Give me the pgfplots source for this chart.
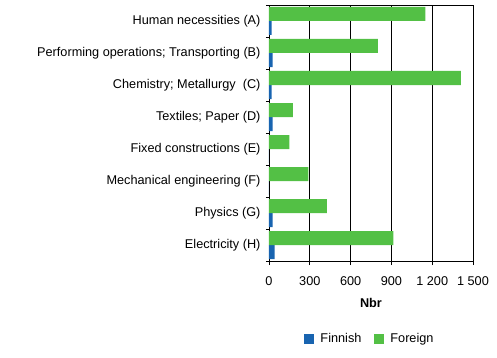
\documentclass[border=0pt]{standalone}
\usepackage{fontspec}
\setmainfont{Liberation Sans}
\usepackage{pgfplots}
\pgfplotsset{compat=1.18}
\definecolor{finblue}{RGB}{24,100,176}
\definecolor{forgreen}{RGB}{83,192,69}
\newcommand{\chfont}{\fontsize{12.7bp}{14bp}\selectfont}
\begin{document}
\begin{tikzpicture}[font=\chfont]
\begin{axis}[
  scale only axis, width=204bp, height=256bp,
  xbar, bar width=14bp,
  xmin=0, xmax=1500, ymin=-0.5, ymax=7.5,
  axis line style={black, line width=0.8bp},
  xtick={0,300,600,900,1200,1500},
  xticklabels={0,300,600,900,{1 200},{1 500}},
  ytick={0,1,2,3,4,5,6,7},
  yticklabels={Electricity (H), Physics (G), Mechanical engineering (F), Fixed constructions (E), Textiles; Paper (D), {Chemistry; Metallurgy\ \ (C)\hspace{9bp}}, Performing operations; Transporting (B), Human necessities (A)},
  minor ytick={-0.5,0.5,1.5,2.5,3.5,4.5,5.5,6.5,7.5},
  major y tick style={draw=none},
  minor tick length=3bp, major tick length=4bp,
  tick align=outside,
  xtick pos=bottom, ytick pos=left,
  tick style={black, line width=0.8bp},
  xmajorgrids, grid style={black, line width=0.8bp},
  xticklabel style={font=\chfont, yshift=-8bp},
  yticklabel style={font=\chfont, xshift=-1bp},
  xlabel={\textbf{Nbr}},
  xlabel style={at={(axis description cs:0.5,-0.164)}, anchor=center, font=\chfont},
  legend style={at={(axis description cs:0.5,-0.305)}, anchor=center, draw=none, legend columns=2,
    font=\chfont, nodes={inner xsep=4bp},
    /tikz/every even column/.append style={column sep=9bp}},
  legend image code/.code={\fill[#1] (0bp,-5bp) rectangle (10bp,5bp); \path (12bp,0bp);},
]
\addplot[fill=finblue, draw=none, bar shift=-7bp] coordinates {
  (42,0) (27,1) (0,2) (0,3) (27,4) (20,5) (27,6) (20,7)};
\addplot[fill=forgreen, draw=none, bar shift=7bp] coordinates {
  (915,0) (425,1) (290,2) (150,3) (175,4) (1410,5) (800,6) (1150,7)};
\legend{Finnish, Foreign}
\coordinate (sw) at (rel axis cs:0,0);
\coordinate (ne) at (rel axis cs:1,1);
\end{axis}
\pgfresetboundingbox
\path[use as bounding box] ([shift={(-269bp,-97bp)}]sw) rectangle ([shift={(24bp,5bp)}]ne);
\end{tikzpicture}
\end{document}
